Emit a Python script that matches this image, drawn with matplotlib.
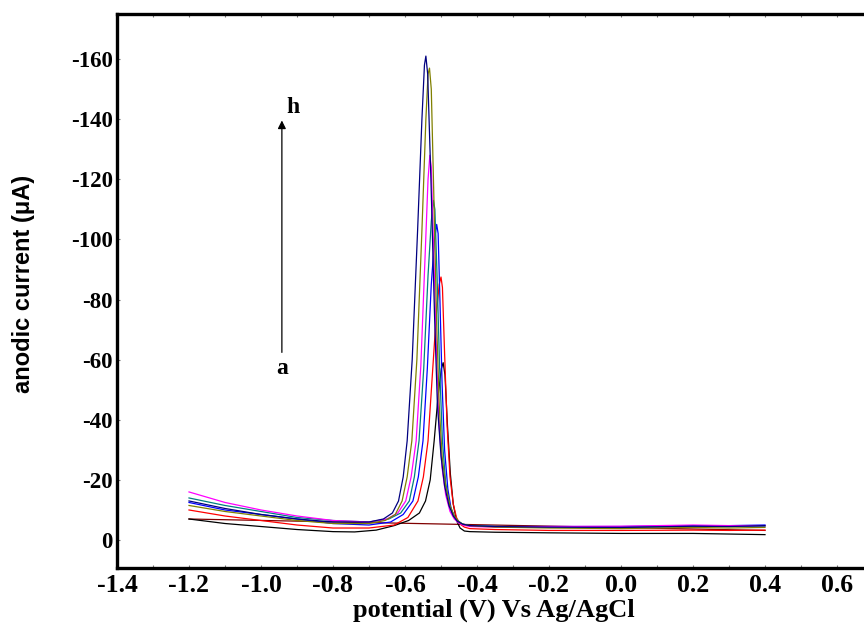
import matplotlib
matplotlib.use("Agg")
import matplotlib.pyplot as plt
from matplotlib.ticker import MultipleLocator

# ---- data (potential V vs Ag/AgCl, current uA) ----
x_h = [-1.2,-1.1,-1.0,-0.9,-0.8,-0.7,-0.66,-0.635,-0.618,-0.605,-0.594,-0.58,-0.565,-0.553,-0.546,-0.542,-0.537,-0.528,-0.518,-0.51,-0.5,-0.49,-0.478,-0.466,-0.455,-0.44,-0.42,-0.35,-0.2,0.0,0.2,0.3,0.4]
y_h = [-13,-10.5,-8.5,-7,-6,-6,-7,-9,-13,-21,-33,-60,-103,-140,-158,-161,-155,-120,-75,-45,-28,-18,-11.5,-8,-6.3,-5.3,-4.8,-4.5,-4.3,-4.2,-4.6,-4.5,-4.8]

x_g = [-1.2,-1.1,-1.0,-0.9,-0.8,-0.7,-0.655,-0.627,-0.608,-0.594,-0.581,-0.567,-0.553,-0.542,-0.536,-0.532,-0.527,-0.52,-0.512,-0.505,-0.497,-0.487,-0.475,-0.463,-0.452,-0.44,-0.42,-0.35,-0.2,0.0,0.2,0.3,0.4]
y_g = [-11.5,-9.5,-8,-6.5,-5.5,-5.5,-6.5,-8.5,-13,-21,-33,-60,-103,-140,-155,-157,-150,-115,-72,-45,-28,-18,-11.5,-8,-6.3,-5.3,-4.8,-4.3,-4.0,-3.8,-4.2,-4.0,-4.2]

x_f = [-1.2,-1.1,-1.0,-0.9,-0.8,-0.7,-0.65,-0.62,-0.598,-0.583,-0.569,-0.556,-0.544,-0.536,-0.531,-0.527,-0.52,-0.512,-0.505,-0.497,-0.487,-0.475,-0.463,-0.452,-0.44,-0.42,-0.35,-0.2,0.0,0.2,0.3,0.4]
y_f = [-16,-12.5,-10,-8,-6.5,-6,-7,-9,-13,-21,-33,-58,-95,-120,-128,-124,-95,-60,-38,-24,-15,-9.5,-7,-5.8,-5,-4.5,-4.3,-4.5,-4.6,-5,-4.8,-4.8]

x_e = [-1.2,-1.1,-1.0,-0.9,-0.8,-0.7,-0.645,-0.612,-0.588,-0.574,-0.561,-0.548,-0.536,-0.527,-0.521,-0.517,-0.511,-0.504,-0.496,-0.487,-0.476,-0.464,-0.452,-0.44,-0.42,-0.35,-0.2,0.0,0.2,0.3,0.4]
y_e = [-14,-11.5,-9.5,-7.5,-6.5,-6,-7,-9,-13,-21,-33,-57,-88,-106,-113,-110,-88,-58,-33,-19,-11.5,-8,-6.3,-5.3,-4.8,-4.5,-4.3,-4.3,-4.6,-4.5,-4.6]

x_d = [-1.2,-1.1,-1.0,-0.9,-0.8,-0.7,-0.64,-0.605,-0.578,-0.563,-0.55,-0.538,-0.527,-0.518,-0.512,-0.508,-0.503,-0.497,-0.49,-0.481,-0.472,-0.462,-0.451,-0.44,-0.42,-0.35,-0.2,0.0,0.2,0.3,0.4]
y_d = [-12.5,-10,-8.5,-7,-5.5,-5,-6,-8.5,-13,-21,-33,-57,-85,-100,-105,-102,-80,-52,-30,-17,-10.5,-7.5,-6,-5.2,-4.8,-4.5,-4.5,-4.5,-4.8,-4.8,-5]

x_c = [-1.2,-1.1,-1.0,-0.9,-0.8,-0.7,-0.63,-0.592,-0.564,-0.549,-0.536,-0.524,-0.513,-0.505,-0.5,-0.496,-0.49,-0.483,-0.475,-0.466,-0.457,-0.447,-0.435,-0.42,-0.35,-0.2,0.0,0.2,0.3,0.4]
y_c = [-10,-8,-6.5,-5,-4,-4,-5,-7.5,-13,-21,-33,-55,-75,-85,-87.5,-84,-62,-38,-21,-12,-7.5,-5.3,-4.3,-3.8,-3.5,-3.2,-3.2,-3.3,-3.2,-3.3]

x_a = [-1.2,-1.1,-1.0,-0.9,-0.8,-0.74,-0.68,-0.63,-0.59,-0.56,-0.543,-0.53,-0.519,-0.508,-0.499,-0.494,-0.489,-0.482,-0.474,-0.466,-0.457,-0.447,-0.435,-0.42,-0.35,-0.2,0.0,0.2,0.3,0.4]
y_a = [-7,-5.5,-4.5,-3.5,-2.8,-2.7,-3.3,-4.8,-6.5,-9,-13,-20,-33,-48,-57,-59,-55,-38,-22,-12,-6.5,-4,-3,-2.8,-2.6,-2.4,-2.2,-2.2,-2.0,-1.8]

x_base = [-1.2, 0.4]
y_base = [-7.0, -3.2]

series = [
    (x_base, y_base, "#800000"),
    (x_a, y_a, "black"),
    (x_c, y_c, "red"),
    (x_d, y_d, "blue"),
    (x_e, y_e, "#008080"),
    (x_f, y_f, "magenta"),
    (x_g, y_g, "#808000"),
    (x_h, y_h, "#000080"),
]

x_ticks = [-1.4, -1.2, -1.0, -0.8, -0.6, -0.4, -0.2, 0.0, 0.2, 0.4, 0.6]
y_ticks = [0, -20, -40, -60, -80, -100, -120, -140, -160]

fig = plt.figure(figsize=(8.64, 6.33), dpi=100)
ax = fig.add_axes([117/864, 65/633, 1 - 117/864, (568-14)/633])

for xs, ys, col in series:
    ax.plot(xs, ys, color=col, lw=0.9)

ax.set_xlim(-1.4, 0.675)
ax.set_ylim(9.3, -175)

serif = "Liberation Serif"
ax.set_xticks(x_ticks)
ax.set_xticklabels([f"{v:.1f}" for v in x_ticks], fontfamily=serif, fontweight="bold", fontsize=18.5)
ax.set_yticks(y_ticks)
ax.set_yticklabels([str(v) for v in y_ticks], fontfamily=serif, fontweight="bold", fontsize=16.5)
ax.xaxis.set_minor_locator(MultipleLocator(0.1))
ax.tick_params(which="both", direction="in", length=2, width=0.8, color="#777777")
ax.tick_params(axis="x", which="both", top=True, pad=4)
ax.tick_params(axis="y", which="both", pad=3)

for s in ["left", "top", "bottom"]:
    ax.spines[s].set_linewidth(2.4)
ax.spines["right"].set_visible(False)

fig.text(494/864, 1 - 610/633, "potential (V) Vs Ag/AgCl", fontfamily=serif, fontweight="bold",
         fontsize=19, ha="center", va="center")
fig.text(24/864, 1 - 284/633, "anodic current (\u03bcA)", fontfamily="Liberation Sans", fontweight="bold",
         fontsize=17, ha="center", va="center", rotation=90)

ax.annotate("", xy=(-0.942, -140.5), xytext=(-0.942, -61.5),
            arrowprops=dict(arrowstyle="-|>", color="black", lw=0.9, mutation_scale=12))
ax.text(-0.911, -144, "h", fontfamily=serif, fontweight="bold", fontsize=17, ha="center", va="center")
ax.text(-0.94, -57, "a", fontfamily=serif, fontweight="bold", fontsize=17, ha="center", va="center")

fig.savefig("out.png", dpi=100)
